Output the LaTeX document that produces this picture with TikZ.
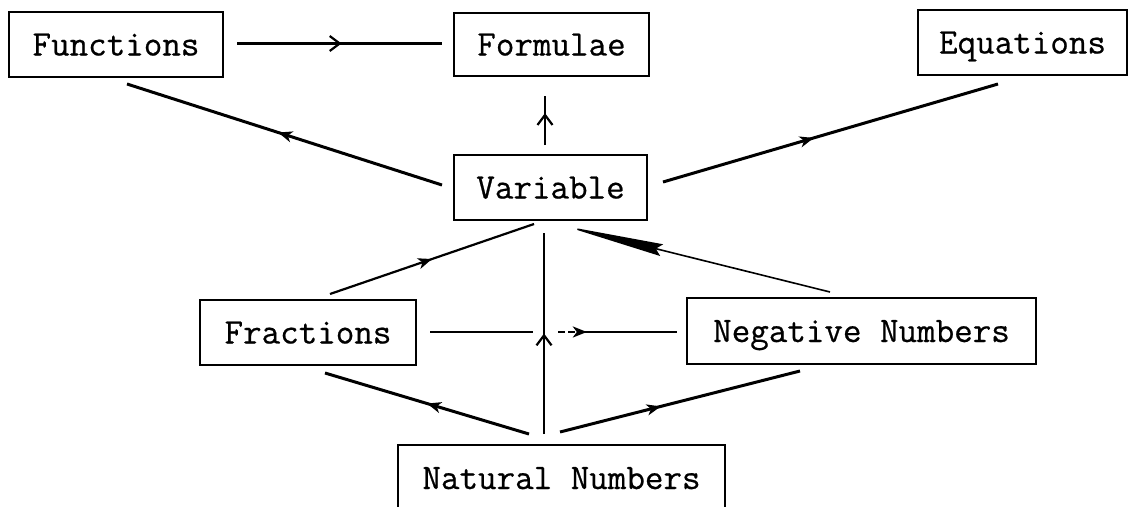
\documentclass[tikz,border=0pt]{standalone}
\usepackage{fontspec}
\newfontfamily\twfont{Latin Modern Mono}[FakeBold=0.6]
\usetikzlibrary{arrows.meta,decorations.markings,calc}
\begin{document}
\begin{tikzpicture}[x=1pt,y=-1pt,
  box/.style={draw, line width=2pt, inner sep=0pt, text height=22pt, text depth=0pt,
    font=\twfont\fontsize{36}{40}\selectfont},
  conn/.style={line width=2.2pt},
  heavy/.style={line width=3pt},
  midhead/.style 2 args={postaction={decorate},
    decoration={markings, mark=at position #1 with {\arrow{#2}}}},
  filledhead/.style={midhead={#1}{Stealth[length=14pt,width=11pt,inset=4pt]}},
  openhead/.style={midhead={#1}{Straight Barb[length=10pt,width=15pt,line width=2.2pt]}}
]
\useasboundingbox (0,0) rectangle (1139,506);
\clip (0,0) rectangle (1139,506);

\node[box, minimum width=214pt, minimum height=65pt] (fun)  at (116,44.5)   {Functions};
\node[box, minimum width=195pt, minimum height=63pt] (form) at (551.5,44.5) {Formulae};
\node[box, minimum width=209pt, minimum height=65pt] (eq)   at (1022.5,42.5) {Equations};
\node[box, minimum width=193pt, minimum height=65pt] (var)  at (550.5,187.5) {Variable};
\node[box, minimum width=216pt, minimum height=65pt] (frac) at (308,332.5)  {Fractions};
\node[box, minimum width=349pt, minimum height=66pt] (neg)  at (861.5,331)  {Negative Numbers};
\node[box, minimum width=327pt, minimum height=66pt] (nat)  at (561.5,478)  {Natural Numbers};

% top row
\draw[heavy, openhead=0.51] ($(fun.east)+(13,-1)$) -- ($(form.west)+(-11,-1)$);
\draw[heavy, filledhead=0.52] ($(var.west)+(-11,-2.5)$) -- ($(fun.south)+(11,6)$);
\draw[conn, openhead=0.65] ($(var.north)+(-5.5,-9)$) -- ($(form.south)+(-6.5,19)$);
\draw[heavy, filledhead=0.45] ($(var.east)+(15,-5.5)$) -- ($(eq.south)+(-24.5,8)$);

% middle
\draw[conn, filledhead=0.5] ($(frac.north)+(22,-5)$) -- ($(var.south)+(-16.5,3)$);
\draw[conn, openhead=0.5] ($(nat.north)+(-17.5,-10)$) -- ($(var.south)+(-6.5,12)$);
\draw[conn, dash pattern=on 103pt off 25pt on 7pt off 3pt on 7pt off 3pt on 200pt off 0pt,
      filledhead=0.635] ($(frac.east)+(13,-0.5)$) -- ($(neg.west)+(-9,1)$);
\draw[line width=1.6pt, -{Stealth[length=100pt,width=12pt,inset=6pt]}]
      ($(neg.north)+(-31.5,-5)$) -- ($(var.south)+(14,5)$);

% bottom
\draw[heavy, filledhead=0.5] ($(nat.north)+(-32.5,-10)$) -- ($(frac.south)+(17,7)$);
\draw[heavy, filledhead=0.42] ($(nat.north)+(-1.5,-12)$) -- ($(neg.south)+(-61.5,6)$);
\end{tikzpicture}
\end{document}
